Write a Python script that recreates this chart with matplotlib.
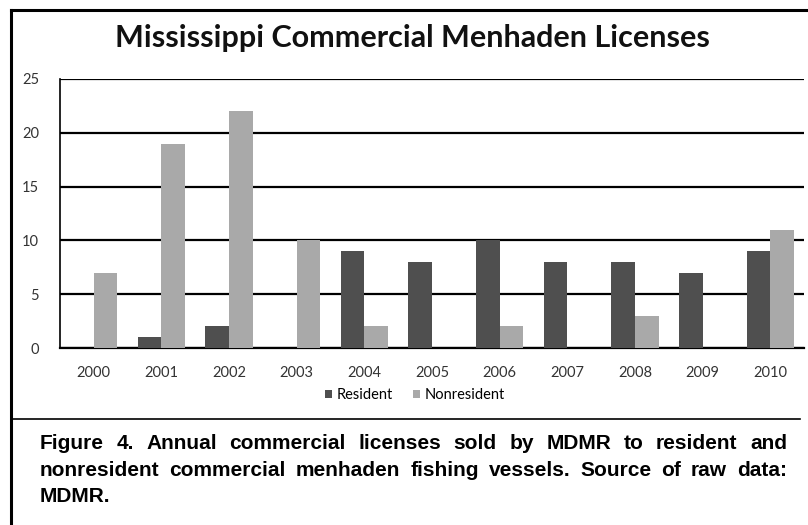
import numpy as np
import matplotlib
matplotlib.use('Agg')
import matplotlib.pyplot as plt
from matplotlib.lines import Line2D

years = ['2000', '2001', '2002', '2003', '2004', '2005', '2006', '2007', '2008', '2009', '2010']
resident = [0, 1, 2, 0, 9, 8, 10, 8, 8, 7, 9]
nonresident = [7, 19, 22, 10, 2, 0, 2, 0, 3, 0, 11]
yticks = [0, 5, 10, 15, 20, 25]

title = 'Mississippi Commercial Menhaden Licenses'
caption = ['Figure 4. Annual commercial licenses sold by MDMR to resident and',
           'nonresident commercial menhaden fishing vessels. Source of raw data:',
           'MDMR.']

W, H = 808, 525
fig = plt.figure(figsize=(W / 100, H / 100), dpi=100)


def fx(px):
    return px / W


def fy(py):
    return 1 - py / H


ax = fig.add_axes([fx(60), fy(348), fx(804) - fx(60), fy(79) - fy(348)])
x = np.arange(len(years))
bw = 0.35
ax.bar(x - bw / 2, resident, bw, color='#4f4f4f', label='Resident', zorder=3)
ax.bar(x + bw / 2, nonresident, bw, color='#a9a9a9', label='Nonresident', zorder=3)

ax.set_xlim(-0.5, len(years) - 0.5)
ax.set_ylim(0, 25)
ax.set_yticks(yticks)
ax.set_xticks(x)
ax.set_xticklabels(years)
ax.yaxis.grid(True, color='black', lw=1.6, zorder=1)
for s in ['top', 'right']:
    ax.spines[s].set_visible(False)
ax.spines['left'].set_linewidth(1.2)
ax.spines['bottom'].set_linewidth(1.6)
ax.tick_params(length=0, labelsize=10.5, colors='#333333')
ax.tick_params(axis='x', pad=13)
ax.tick_params(axis='y', pad=15)
for lab in ax.get_xticklabels() + ax.get_yticklabels():
    lab.set_family('Lato')

fig.text(fx(412), fy(38), title, ha='center', va='center', fontsize=22,
         fontweight='bold', family='Lato', color='#111111')

fig.legend(loc='center', bbox_to_anchor=(fx(415), fy(395)), ncol=2, frameon=False,
           prop={'family': 'Lato', 'size': 10.5}, handlelength=0.5, handleheight=0.5,
           handletextpad=0.3, columnspacing=1.4)

# border and separator
fig.add_artist(Line2D([fx(11), fx(11)], [fy(10), 0], color='black', lw=2.2))
fig.add_artist(Line2D([fx(11), 1], [fy(10), fy(10)], color='black', lw=2.2))
fig.add_artist(Line2D([fx(11), fx(800)], [fy(419), fy(419)], color='black', lw=1.2))

# justified caption
renderer = fig.canvas.get_renderer()
left, right = 40, 787
base = [449, 476, 502]
for i, line in enumerate(caption):
    words = line.split(' ')
    arts = [fig.text(0, fy(base[i]), w, ha='left', va='baseline', fontsize=15,
                     fontweight='bold', family='Liberation Sans') for w in words]
    widths = [a.get_window_extent(renderer).width for a in arts]
    if i < len(caption) - 1 and len(words) > 1:
        gap = (right - left - sum(widths)) / (len(words) - 1)
    else:
        gap = 5
    pos = left
    for a, wdt in zip(arts, widths):
        a.set_x(fx(pos))
        pos += wdt + gap

fig.savefig('out.png', dpi=100)
